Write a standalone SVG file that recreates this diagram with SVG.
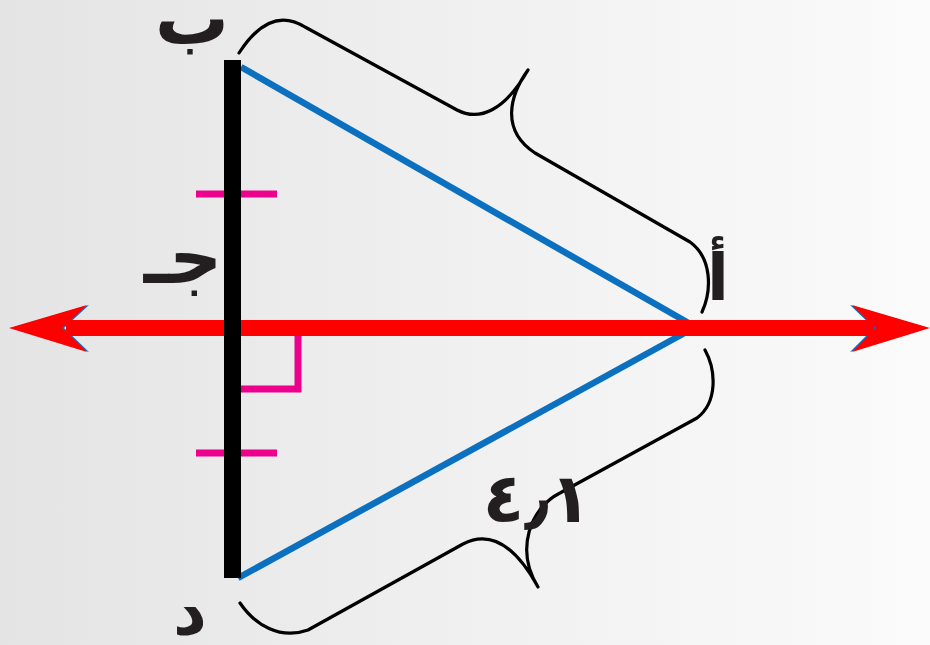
<svg xmlns="http://www.w3.org/2000/svg" width="930" height="645" viewBox="0 0 930 645">
<defs>
<linearGradient id="bg" x1="0" y1="0" x2="1" y2="0">
<stop offset="0" stop-color="#e4e4e4"/>
<stop offset="0.5" stop-color="#f0f0f0"/>
<stop offset="1" stop-color="#fbfbfb"/>
</linearGradient>
<style>
.lbl{font-family:"DejaVu Sans","Noto Sans",sans-serif;font-weight:bold;fill:#231f20;text-anchor:middle}
.brace{fill:none;stroke:#000;stroke-width:3.2;stroke-linecap:round;stroke-linejoin:round}
.side{stroke:#0a70bf;stroke-width:6.5;stroke-linecap:butt}
.tick{stroke:#ec008c;stroke-width:7;fill:none}
</style>
</defs>
<rect width="930" height="645" fill="url(#bg)"/>
<g id="connectors">
<g id="braces">
<path class="brace" d="M239,53 Q270,5 305,27 L457,110 C480,122 505,110 528,70 C510,95 500,130 535,153 L690,242 C712,258 712,290 702,312"/>
<path class="brace" d="M705,350 C716,370 718,402 697,418 L560,493 C530,508 515,550 538,587 C515,545 490,530 463,544 L308,630 C280,640 255,625 240,603"/>
</g>
<line class="side" x1="241" y1="67" x2="692" y2="325"/>
<line class="side" x1="238" y1="578" x2="690" y2="330"/>
<g id="ticks">
<line class="tick" x1="196" y1="194" x2="277" y2="194"/>
<line class="tick" x1="196" y1="453" x2="277" y2="453"/>
<polyline class="tick" points="241,389 298,389 298,336"/>
</g>
<g id="bisector">
<polygon points="11,328 89,305 64,328 89,352" fill="#0a70bf"/>
<polygon points="928,328 850,305 874,328 850,352" fill="#0a70bf"/>
<rect x="66" y="320" width="808" height="16" fill="#ff0000"/>
<polygon points="9,328 87,305 62,328 87,352" fill="#ff0000"/>
<polygon points="930,328 852,305 876,328 852,352" fill="#ff0000"/>
</g>
<rect id="segment" x="224" y="60" width="17" height="518" fill="#000"/>
</g>
<g id="node-b"><text class="lbl" x="192" y="44" font-size="74">ب</text></g>
<g id="node-j"><text class="lbl" x="183" y="283" font-size="74">جـ</text></g>
<g id="node-a"><text class="lbl" x="718" y="300" font-size="64">أ</text></g>
<g id="node-d"><text class="lbl" x="190" y="634" font-size="66">د</text></g>
<g id="label-len"><text class="lbl" x="537" y="522" font-size="68" direction="ltr">٤٫١</text></g>
</svg>
